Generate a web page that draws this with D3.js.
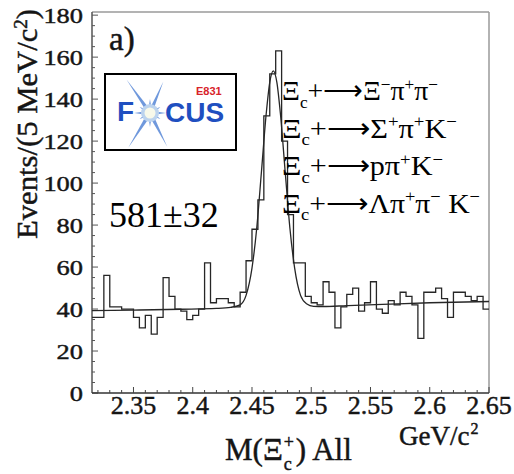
<!DOCTYPE html>
<html>
<head>
<meta charset="utf-8">
<script src="https://cdn.jsdelivr.net/npm/d3@7"></script>
<style>
  body { margin: 0; background: #fff; }
  svg { display: block; font-family: "Liberation Serif", "Times New Roman", "DejaVu Serif", serif; }
  .heavy { stroke: #151515; stroke-width: 0.45px; }
</style>
</head>
<body>
<svg id="chart" width="514" height="474"></svg>
<script>
// Ξc+ invariant-mass spectrum, all decay modes combined, 5 MeV bins
const binStart = 2.315;   // GeV/c², lower edge of the first bin
const binWidth = 0.005;   // GeV/c²
const counts = [36, 36, 56, 41, 41, 40, 40, 36, 31, 37, 28, 36, 55, 46, 40, 39, 35,
                37, 40, 62, 43, 45, 45, 43, 41, 48, 63, 78, 92, 132, 152, 163, 120,
                85, 62, 62, 46, 43, 42, 53, 48, 31, 41, 47, 50, 39, 43, 53, 40, 38,
                44, 42, 48, 46, 42, 26, 48, 48, 50, 45, 36, 48, 48, 46, 44, 46, 40];

// fitted signal + background curve
const fitMass   = [2.315, 2.35, 2.39, 2.42, 2.432, 2.440, 2.445, 2.450, 2.454, 2.458,
                   2.462, 2.465, 2.468, 2.471, 2.474, 2.478, 2.482, 2.486, 2.491, 2.496,
                   2.502, 2.51, 2.53, 2.56, 2.60, 2.65];
const fitEvents = [39.2, 39.5, 39.9, 40.3, 40.8, 42, 46.5, 59.5, 78.5, 105.5,
                   133, 148, 153.5, 148, 133, 105.5, 78.5, 59.5, 46.5, 42.5,
                   41.3, 41.2, 41.6, 42.2, 43, 43.6];

const xTicks = [2.35, 2.4, 2.45, 2.5, 2.55, 2.6, 2.65];
const xTickLabels = ["2.35", "2.4", "2.45", "2.5", "2.55", "2.6", "2.65"];
const yTicks = [0, 20, 40, 60, 80, 100, 120, 140, 160, 180];

const signalYield = "581±32";
const decayModes = [
  [["Ξ"], ["c", "sub"], ["+⟶Ξ"], ["−", "sup"], ["π"], ["+", "sup"], ["π"], ["−", "sup"]],
  [["Ξ"], ["c", "sub"], ["+⟶Σ"], ["+", "sup"], ["π"], ["+", "sup"], ["K"], ["−", "sup"]],
  [["Ξ"], ["c", "sub"], ["+⟶pπ"], ["+", "sup"], ["K"], ["−", "sup"]],
  [["Ξ"], ["c", "sub"], ["+⟶Λπ"], ["+", "sup"], ["π"], ["−", "sup"], [" K"], ["−", "sup"]]
];

const serif = "'Liberation Serif', 'Times New Roman', serif";
const sans = "'Liberation Sans', Arial, sans-serif";
const ink = "#151515";

const svg = d3.select("#chart");
const plot = { left: 92, right: 489, top: 12, bottom: 393 };

const x = d3.scaleLinear().domain([2.315, 2.65]).range([plot.left, plot.right]);
const y = d3.scaleLinear().domain([0, 181.5]).range([plot.bottom, plot.top]);

// frame: top and right edges are drawn lighter than the axes
svg.append("line").attr("x1", plot.left).attr("x2", plot.right)
  .attr("y1", plot.top).attr("y2", plot.top)
  .attr("stroke", "#9a9a9a").attr("stroke-width", 1.5);
svg.append("line").attr("x1", plot.right).attr("x2", plot.right)
  .attr("y1", plot.top).attr("y2", plot.bottom)
  .attr("stroke", "#9a9a9a").attr("stroke-width", 1.5);

// y axis with inward ticks, minor every 5 events
const yAxis = svg.append("g").attr("transform", `translate(${plot.left},0)`);
yAxis.append("line").attr("x1", 0).attr("x2", 0)
  .attr("y1", plot.top).attr("y2", plot.bottom)
  .attr("stroke", "#555").attr("stroke-width", 1.5);
yAxis.selectAll(".ymin").data(d3.range(0, 181, 5)).join("line")
  .attr("x1", 0).attr("x2", d => d % 20 === 0 ? 6 : 3)
  .attr("y1", d => y(d)).attr("y2", d => y(d))
  .attr("stroke", "#555").attr("stroke-width", 1);
svg.selectAll(".ylab").data(yTicks).join("text")
  .attr("class", "heavy")
  .attr("transform", d => `translate(83,${y(d)}) scale(1.2,1)`)
  .attr("dy", "0.35em")
  .attr("text-anchor", "end")
  .attr("font-family", serif).attr("font-size", 22).attr("fill", ink)
  .text(d => d);

// x axis with inward ticks, minor every 10 MeV
const xAxis = svg.append("g").attr("transform", `translate(0,${plot.bottom})`);
xAxis.append("line").attr("x1", plot.left).attr("x2", plot.right)
  .attr("y1", 0).attr("y2", 0)
  .attr("stroke", "#333").attr("stroke-width", 1.6);
xAxis.selectAll(".xmin").data(d3.range(2.32, 2.6501, 0.01)).join("line")
  .attr("x1", d => x(d)).attr("x2", d => x(d))
  .attr("y1", 0).attr("y2", d => Math.abs(Math.round(d * 100) % 5) === 0 ? -6 : -3)
  .attr("stroke", "#444").attr("stroke-width", 1);
svg.selectAll(".xlab").data(xTicks).join("text")
  .attr("class", "heavy")
  .attr("x", d => x(d)).attr("y", 414)
  .attr("text-anchor", "middle")
  .attr("font-family", serif).attr("font-size", 26).attr("fill", ink)
  .text((d, i) => xTickLabels[i]);

// histogram as a step outline
const edges = counts.map((c, i) => [binStart + i * binWidth, c]);
edges.push([binStart + counts.length * binWidth, counts[counts.length - 1]]);
svg.append("path")
  .attr("d", d3.line().x(d => x(d[0])).y(d => y(d[1])).curve(d3.curveStepAfter)(edges))
  .attr("fill", "none").attr("stroke", "#262626").attr("stroke-width", 1.3);

// fit curve
svg.append("path")
  .attr("d", d3.line().x(d => x(d[0])).y(d => y(d[1])).curve(d3.curveMonotoneX)(
    fitMass.map((m, i) => [m, fitEvents[i]])))
  .attr("fill", "none").attr("stroke", "#262626").attr("stroke-width", 1.3);

// panel label
svg.append("text").attr("class", "heavy").attr("x", 109).attr("y", 50)
  .attr("font-family", serif).attr("font-size", 33).attr("fill", ink).text("a)");

// yield
svg.append("text").attr("x", 109).attr("y", 227)
  .attr("font-family", serif).attr("font-size", 36).attr("fill", "#000").text(signalYield);

// rich text helper: sub/superscripts via relative baseline shifts
function richText(sel, segs, size) {
  let shift = 0;
  segs.forEach(([t, kind]) => {
    const target = kind === "sub" ? size * 0.28 : kind === "sup" ? -size * 0.36 : 0;
    sel.append("tspan")
      .attr("dy", target - shift)
      .attr("font-size", kind ? size * 0.62 : size)
      .text(t);
    shift = target;
  });
}

// decay-mode list
const modeBase = [100, 137.5, 175, 212.5];
const modeWidth = [156, 175, 161, 198];
decayModes.forEach((segs, i) => {
  const t = svg.append("text").attr("x", 282).attr("y", modeBase[i])
    .attr("font-family", serif).attr("fill", "#000")
    .attr("textLength", modeWidth[i]).attr("lengthAdjust", "spacingAndGlyphs");
  richText(t, segs, 28);
});

// axis titles
svg.append("text")
  .attr("class", "heavy")
  .attr("transform", "translate(37,124) rotate(-90)")
  .attr("text-anchor", "middle")
  .attr("font-family", serif).attr("font-size", 29).attr("fill", ink)
  .attr("textLength", 230).attr("lengthAdjust", "spacingAndGlyphs")
  .call(t => richText(t, [["Events/(5 MeV/c"], ["2", "sup"], [")"]], 29));

const mt = svg.append("text").attr("class", "heavy").attr("x", 225).attr("y", 460)
  .attr("font-family", serif).attr("font-size", 31).attr("fill", ink).text("M(Ξ");
const mtEnd = 225 + mt.node().getComputedTextLength();
svg.append("text").attr("class", "heavy").attr("x", mtEnd + 1).attr("y", 448)
  .attr("font-family", serif).attr("font-size", 18).attr("fill", ink).text("+");
svg.append("text").attr("class", "heavy").attr("x", mtEnd + 1).attr("y", 470)
  .attr("font-family", serif).attr("font-size", 18).attr("fill", ink).text("c");
svg.append("text").attr("class", "heavy").attr("x", mtEnd + 13).attr("y", 460)
  .attr("font-family", serif).attr("font-size", 31).attr("fill", ink).text(") All");

const gt = svg.append("text").attr("class", "heavy").attr("x", 399).attr("y", 445)
  .attr("font-family", serif).attr("font-size", 27).attr("fill", ink).text("GeV/c");
const gtEnd = 399 + gt.node().getComputedTextLength();
svg.append("text").attr("class", "heavy").attr("x", gtEnd + 1).attr("y", 434)
  .attr("font-family", serif).attr("font-size", 16).attr("fill", ink).text("2");

// experiment logo
const logo = svg.append("g");
logo.append("rect").attr("x", 105).attr("y", 74).attr("width", 131).attr("height", 76)
  .attr("fill", "#fff").attr("stroke", "#000").attr("stroke-width", 2);
const cx = 150, cy = 113;
const rays = [[-125, 41], [-67, 34], [122, 41], [63, 38], [180, 16], [0, 16],
              [-90, 14], [90, 14], [-150, 12], [150, 12], [-30, 12], [30, 12]];
logo.selectAll(".ray").data(rays).join("path")
  .attr("d", ([a, len]) => {
    const r = a * Math.PI / 180, w = 2.2;
    const ex = cx + Math.cos(r) * len, ey = cy + Math.sin(r) * len;
    const px = -Math.sin(r) * w, py = Math.cos(r) * w;
    return `M${cx + px},${cy + py}L${ex},${ey}L${cx - px},${cy - py}Z`;
  })
  .attr("fill", "#6f98dc");
logo.append("circle").attr("cx", cx).attr("cy", cy).attr("r", 9).attr("fill", "#bcd3ee");
logo.append("circle").attr("cx", cx).attr("cy", cy).attr("r", 5.5).attr("fill", "#f8f9ea");
logo.append("text").attr("x", 117).attr("y", 121)
  .attr("font-family", sans).attr("font-weight", "bold").attr("font-size", 28)
  .attr("fill", "#1f4fc0").text("F");
logo.append("text").attr("x", 165).attr("y", 122)
  .attr("font-family", sans).attr("font-weight", "bold").attr("font-size", 28)
  .attr("fill", "#1f4fc0").text("CUS");
logo.append("text").attr("x", 196).attr("y", 95)
  .attr("font-family", sans).attr("font-weight", "bold").attr("font-size", 11)
  .attr("fill", "#d8232a").text("E831");
</script>
</body>
</html>
